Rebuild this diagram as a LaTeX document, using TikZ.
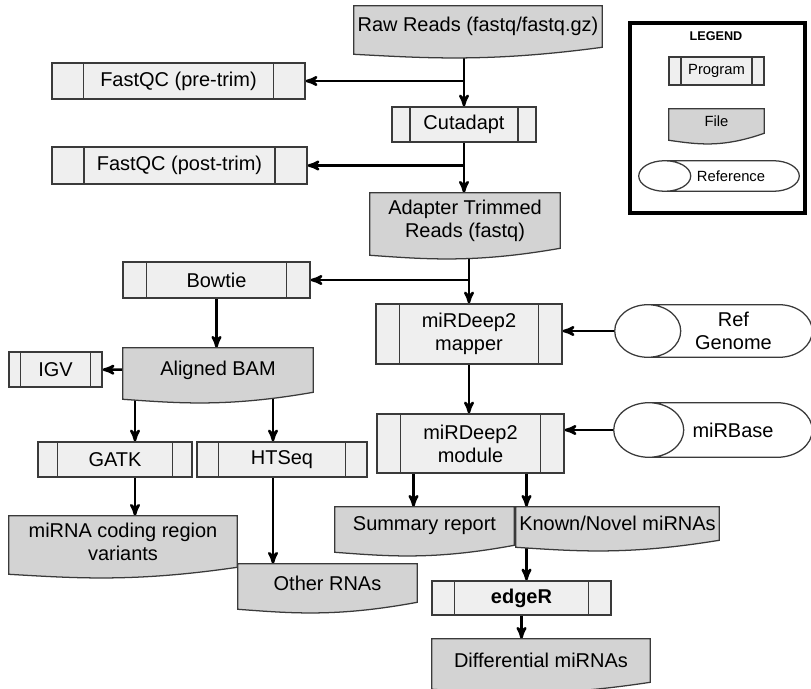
\documentclass[tikz,border=0pt]{standalone}
\usepackage{fontspec}
\setmainfont{Liberation Sans}
\usepackage{xcolor}
\usepackage{tikz}
\usetikzlibrary{arrows, positioning, calc}

\definecolor{progfill}{HTML}{EFEFEF}
\definecolor{filefill}{HTML}{D3D3D3}
\definecolor{shapeline}{HTML}{3A3A3A}
\newlength{\unitpx}
\setlength{\unitpx}{0.025cm}
\pgfdeclarelayer{lines}
\pgfdeclarelayer{shapes}
\pgfsetlayers{lines,shapes,main}

\begin{document}
\begin{tikzpicture}[x=\unitpx,y=-\unitpx,>=stealth',
	wh/.style 2 args={minimum width=#1\unitpx,minimum height=#2\unitpx},
	flow font/.style={font=\fontsize{14.2pt}{16.4pt}\selectfont},
	small font/.style={font=\fontsize{10.5pt}{12pt}\selectfont},
	prog/.style={rectangle,draw=shapeline,fill=progfill,line width=0.9pt,inner sep=0pt,align=center,flow font,
		path picture={
			\draw[shapeline,line width=0.9pt]
			($(path picture bounding box.north west)!0.125!(path picture bounding box.north east)$) --
			($(path picture bounding box.south west)!0.125!(path picture bounding box.south east)$)
			($(path picture bounding box.north east)!0.125!(path picture bounding box.north west)$) --
			($(path picture bounding box.south east)!0.125!(path picture bounding box.south west)$);}},
	file/.style={rectangle,inner sep=0pt,align=center,flow font},
	ref/.style={rectangle,inner sep=0pt},
	reftext/.style={inner sep=0pt,align=center,flow font},
	fileline/.style={draw=shapeline,fill=filefill,line width=0.9pt},
	refline/.style={draw=shapeline,line width=0.9pt},
	conn/.style={->,line width=1.8pt}]
	
	\useasboundingbox (0,0) rectangle (811,689);
	
	% main pipeline
	\node[file,wh={248}{41}] (raw) at (478,26.5) {Raw Reads (fastq/fastq.gz)};
	\node[prog,wh={253}{36}] (fqpre) at (178.5,81) {FastQC (pre-trim)};
	\node[prog,wh={144}{35}] (cutadapt) at (464,124.5) {Cutadapt};
	\node[prog,wh={255}{37}] (fqpost) at (179.5,165.5) {FastQC (post-trim)};
	\node[file,wh={190}{55}] (trim) at (465,220.5) {Adapter Trimmed\\Reads (fastq)};
	\node[prog,wh={187}{36}] (bowtie) at (216.5,280) {Bowtie};
	\node[prog,wh={186}{60}] (mapper) at (469,334) {miRDeep2\\mapper};
	\node[ref,wh={197}{52}] (refgen) at (713.5,331) {};
	\node[reftext] (refgentext) at ([xshift=20\unitpx]refgen.center) {Ref\\Genome};
	\node[file,wh={190}{44}] (bam) at (218,370) {Aligned BAM};
	\node[prog,wh={93}{35}] (igv) at (55.5,369.5) {IGV};
	\node[prog,wh={187}{59}] (module) at (470.5,443.5) {miRDeep2\\module};
	\node[ref,wh={198}{54}] (mirbase) at (713,430) {};
	\node[reftext] (mirbasetext) at ([xshift=20\unitpx]mirbase.center) {miRBase};
	\node[prog,wh={154}{35}] (gatk) at (115,459.5) {GATK};
	\node[prog,wh={170}{35}] (htseq) at (282,459.5) {HTSeq};
	\node[file,wh={228}{51}] (variants) at (123,541.5) {miRNA coding region\\variants};
	\node[file,wh={179}{38}] (other) at (327.5,583) {Other RNAs};
	\node[file,wh={179}{38}] (summary) at (424.5,526) {Summary report};
	\node[file,wh={203}{33}] (known) at (617.5,523.5) {Known/Novel miRNAs};
	\node[prog,wh={179}{34}] (edger) at (521.5,598) {\bfseries edgeR};
	\node[file,wh={218}{43}] (diff) at (541,660.5) {Differential miRNAs};
	
	% legend
	\node[draw,line width=2.4pt,wh={175}{190}] (legend) at (717.5,118) {};
	\node[font=\fontsize{9pt}{10pt}\selectfont\bfseries] (legtitle) at (716,36) {LEGEND};
	\node[prog,small font,wh={95}{28}] (legprog) at (716.5,71) {Program};
	\node[file,small font,wh={95}{24}] (legfile) at (716.5,121) {File};
	\node[ref,wh={160}{30}] (legref) at (719,176) {};
	\node[reftext,small font] (legreftext) at ([xshift=12\unitpx]legref.center) {Reference};
	
	\coordinate (gatkin) at ($(gatk.north)+(20,0)$);
	\coordinate (htin) at ($(htseq.north)+(-9,0)$);
	\coordinate (sumin) at ($(module.south)+(-57,0)$);
	\coordinate (knin) at ($(module.south)+(56,0)$);
	
	\begin{pgfonlayer}{shapes}
		% file outlines with the wavy bottom
		\foreach \f in {raw,trim,bam,variants,other,summary,known,diff,legfile}
		\draw[fileline] (\f.north west) -- (\f.north east) -- (\f.south east)
		.. controls ($(\f.south east)!0.45!(\f.south west)+(0,15)$) and ($(\f.south east)!0.7!(\f.south west)+(0,11)$)
		.. ($(\f.south west)+(0,7)$) -- cycle;
		% references: lying cylinders
		\foreach \r/\rx in {refgen/33,mirbase/35,legref/26}
		\path let \p1=($(\r.north)-(\r.south)$), \n1={0.5*\y1} in
		[refline] ($(\r.north west)+(\rx,0)$) -- ($(\r.north east)+(-\rx,0)$)
		arc[start angle=90,end angle=-90,x radius=\rx\unitpx,y radius=\n1]
		-- ($(\r.south west)+(\rx,0)$)
		arc[start angle=270,end angle=90,x radius=\rx\unitpx,y radius=\n1]
		($(\r.west)+(\rx,0)$) ellipse[x radius=\rx\unitpx,y radius=\n1];
	\end{pgfonlayer}
	
	\begin{pgfonlayer}{lines}
		\draw[conn] (cutadapt |- raw) -- (cutadapt);
		\draw[conn] (cutadapt |- fqpre) -- (fqpre);
		\draw[conn] (cutadapt) -- (cutadapt |- trim.north);
		\draw[conn] (cutadapt |- fqpost) -- (fqpost);
		\draw[conn] (mapper |- trim) -- (mapper);
		\draw[conn] (mapper |- bowtie) -- (bowtie);
		\draw[conn] (bowtie) -- (bowtie |- bam.north);
		\draw[conn] (bam) -- (igv);
		\draw[conn] (gatkin |- bam) -- (gatkin);
		\draw[conn] (gatkin |- gatk) -- (gatkin |- variants.north);
		\draw[conn] (htin |- bam) -- (htin);
		\draw[conn] (htin |- htseq) -- (htin |- other.north);
		\draw[conn] (mapper) -- (mapper |- module.north);
		\draw[conn] (refgen.west) -- (mapper.east |- refgen.west);
		\draw[conn] (mirbase.west) -- (module.east |- mirbase.west);
		\draw[conn] (sumin |- module) -- (sumin |- summary.north);
		\draw[conn] (knin |- module) -- (knin |- known.north);
		\draw[conn] (knin |- known) -- (knin |- edger.north);
		\draw[conn] (edger) -- (edger |- diff.north);
	\end{pgfonlayer}
\end{tikzpicture}
\end{document}
